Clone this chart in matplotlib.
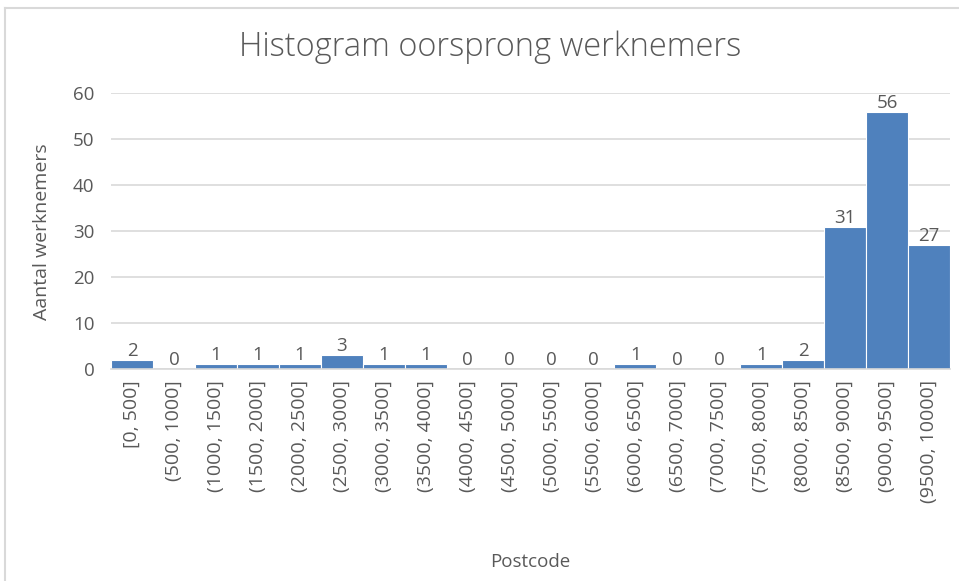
import matplotlib
matplotlib.use("Agg")
import matplotlib.pyplot as plt
from matplotlib.lines import Line2D

categories = ["[0, 500]", "(500, 1000]", "(1000, 1500]", "(1500, 2000]", "(2000, 2500]",
              "(2500, 3000]", "(3000, 3500]", "(3500, 4000]", "(4000, 4500]", "(4500, 5000]",
              "(5000, 5500]", "(5500, 6000]", "(6000, 6500]", "(6500, 7000]", "(7000, 7500]",
              "(7500, 8000]", "(8000, 8500]", "(8500, 9000]", "(9000, 9500]", "(9500, 10000]"]
counts = [2, 0, 1, 1, 1, 3, 1, 1, 0, 0, 0, 0, 1, 0, 0, 1, 2, 31, 56, 27]
yticks = [0, 10, 20, 30, 40, 50, 60]

plt.rcParams['font.family'] = ['Open Sans', 'DejaVu Sans']
TXT = '#595959'
GRID = '#D9D9D9'
BLUE = '#4F81BD'

fig = plt.figure(figsize=(9.59, 5.81), dpi=100)
W, H = 959, 581
# chart area border (left and top visible)
fig.add_artist(Line2D([5/W, 5/W], [0, 1-8/H], transform=fig.transFigure, color=GRID, lw=1.5))
fig.add_artist(Line2D([5/W, 1], [1-8/H, 1-8/H], transform=fig.transFigure, color=GRID, lw=1.5))

ax = fig.add_axes([111/W, 1-369/H, (950-111)/W, (369-93.5)/H])
x = list(range(len(categories)))
bars = ax.bar(x, counts, width=1.0, color=BLUE, edgecolor='white', linewidth=0.8, zorder=3)
ax.set_xlim(-0.5, len(categories)-0.5)
ax.set_ylim(0, 60)
ax.set_yticks(yticks)
ax.set_yticklabels([str(v) for v in yticks], fontsize=13.5, color=TXT)
ax.set_xticks(x)
ax.set_xticklabels(categories, rotation=90, fontsize=14, color=TXT, va='top')
ax.tick_params(axis='both', length=0)
ax.tick_params(axis='y', pad=12)
ax.tick_params(axis='x', pad=8)
ax.grid(axis='y', color=GRID, lw=1.2, zorder=0)
for s in ['top', 'right', 'left']:
    ax.spines[s].set_visible(False)
ax.spines['bottom'].set_color(GRID)
ax.spines['bottom'].set_linewidth(1.2)
ax.spines['bottom'].set_zorder(4)

for xi, v in zip(x, counts):
    ax.annotate(str(v), (xi, v), xytext=(0, 0), textcoords='offset points',
                ha='center', va='bottom', fontsize=13.5, color=TXT, zorder=5)

ax.set_ylabel('Aantal werknemers', fontsize=14, color=TXT, labelpad=16)
ax.set_xlabel('Postcode', fontsize=13.5, color=TXT, labelpad=36)
fig.text(0.511, 1-47/H, 'Histogram oorsprong werknemers', ha='center', va='center',
         fontsize=23.5, color=TXT, fontweight='light')

fig.savefig('out.png', dpi=100, facecolor='white')
